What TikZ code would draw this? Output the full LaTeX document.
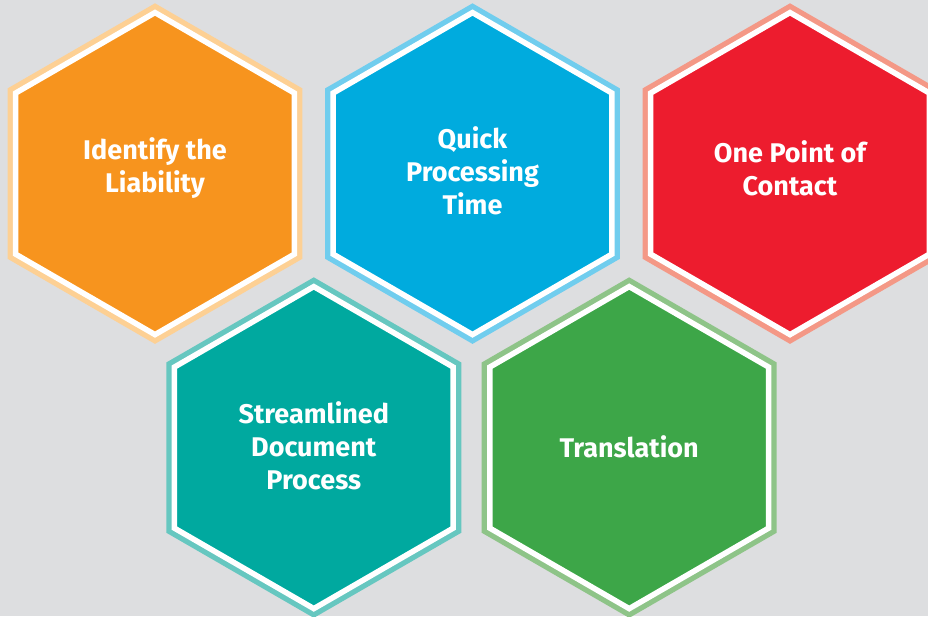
\documentclass[tikz,border=0pt]{standalone}
\usepackage{fontspec}
\setmainfont{Fira Sans}
\usetikzlibrary{shapes.geometric}

\definecolor{bggray}{RGB}{221,222,224}
\definecolor{orangefill}{RGB}{247,148,30}
\definecolor{orangerim}{RGB}{253,208,148}
\definecolor{bluefill}{RGB}{0,171,222}
\definecolor{bluerim}{RGB}{112,205,238}
\definecolor{redfill}{RGB}{237,28,46}
\definecolor{redrim}{RGB}{244,152,134}
\definecolor{tealfill}{RGB}{0,169,159}
\definecolor{tealrim}{RGB}{102,199,192}
\definecolor{greenfill}{RGB}{61,166,72}
\definecolor{greenrim}{RGB}{142,196,136}

\tikzset{
  hexcell/.style 2 args={regular polygon, regular polygon sides=6,
    shape border rotate=30, minimum size=322pt, inner sep=0pt,
    fill=#2, draw=white, line width=5.5pt, line join=miter,
    preaction={draw=#1, line width=16.1pt, line join=miter}},
  hexlabel/.style={text=white, align=center, inner sep=0pt,
    font=\fontsize{27}{33.3}\selectfont\bfseries}
}

\begin{document}
\begin{tikzpicture}[x=1pt,y=1pt,yscale=-1,xscale=1]
  %Background
  \fill[bggray] (0,0) rectangle (928,616);
  \useasboundingbox (0,0) rectangle (928,616);

  %Shape: Hexagon top row
  \node[hexcell={orangerim}{orangefill}] (liab) at (155,173.6) {};
  \node[hexcell={bluerim}{bluefill}] (quick) at (472.5,173.6) {};
  \node[hexcell={redrim}{redfill}] (contact) at (790,173.6) {};
  %Shape: Hexagon bottom row
  \node[hexcell={tealrim}{tealfill}] (docs) at (313.8,447.6) {};
  \node[hexcell={greenrim}{greenfill}] (transl) at (629.2,447.6) {};

  % Text Node
  \node[hexlabel] (liabtxt) at ([yshift=-5.5pt]liab.center) {Identify the\\Liability};
  % Text Node
  \node[hexlabel] (quicktxt) at ([yshift=-3pt]quick.center) {Quick\\Processing\\Time};
  % Text Node
  \node[hexlabel] (contacttxt) at ([yshift=-5.5pt]contact.center) {One Point of\\Contact};
  % Text Node
  \node[hexlabel] (docstxt) at ([yshift=-2pt]docs.center) {Streamlined\\Document\\Process};
  % Text Node
  \node[hexlabel] (transltxt) at ([yshift=-1pt]transl.center) {Translation};
\end{tikzpicture}
\end{document}
